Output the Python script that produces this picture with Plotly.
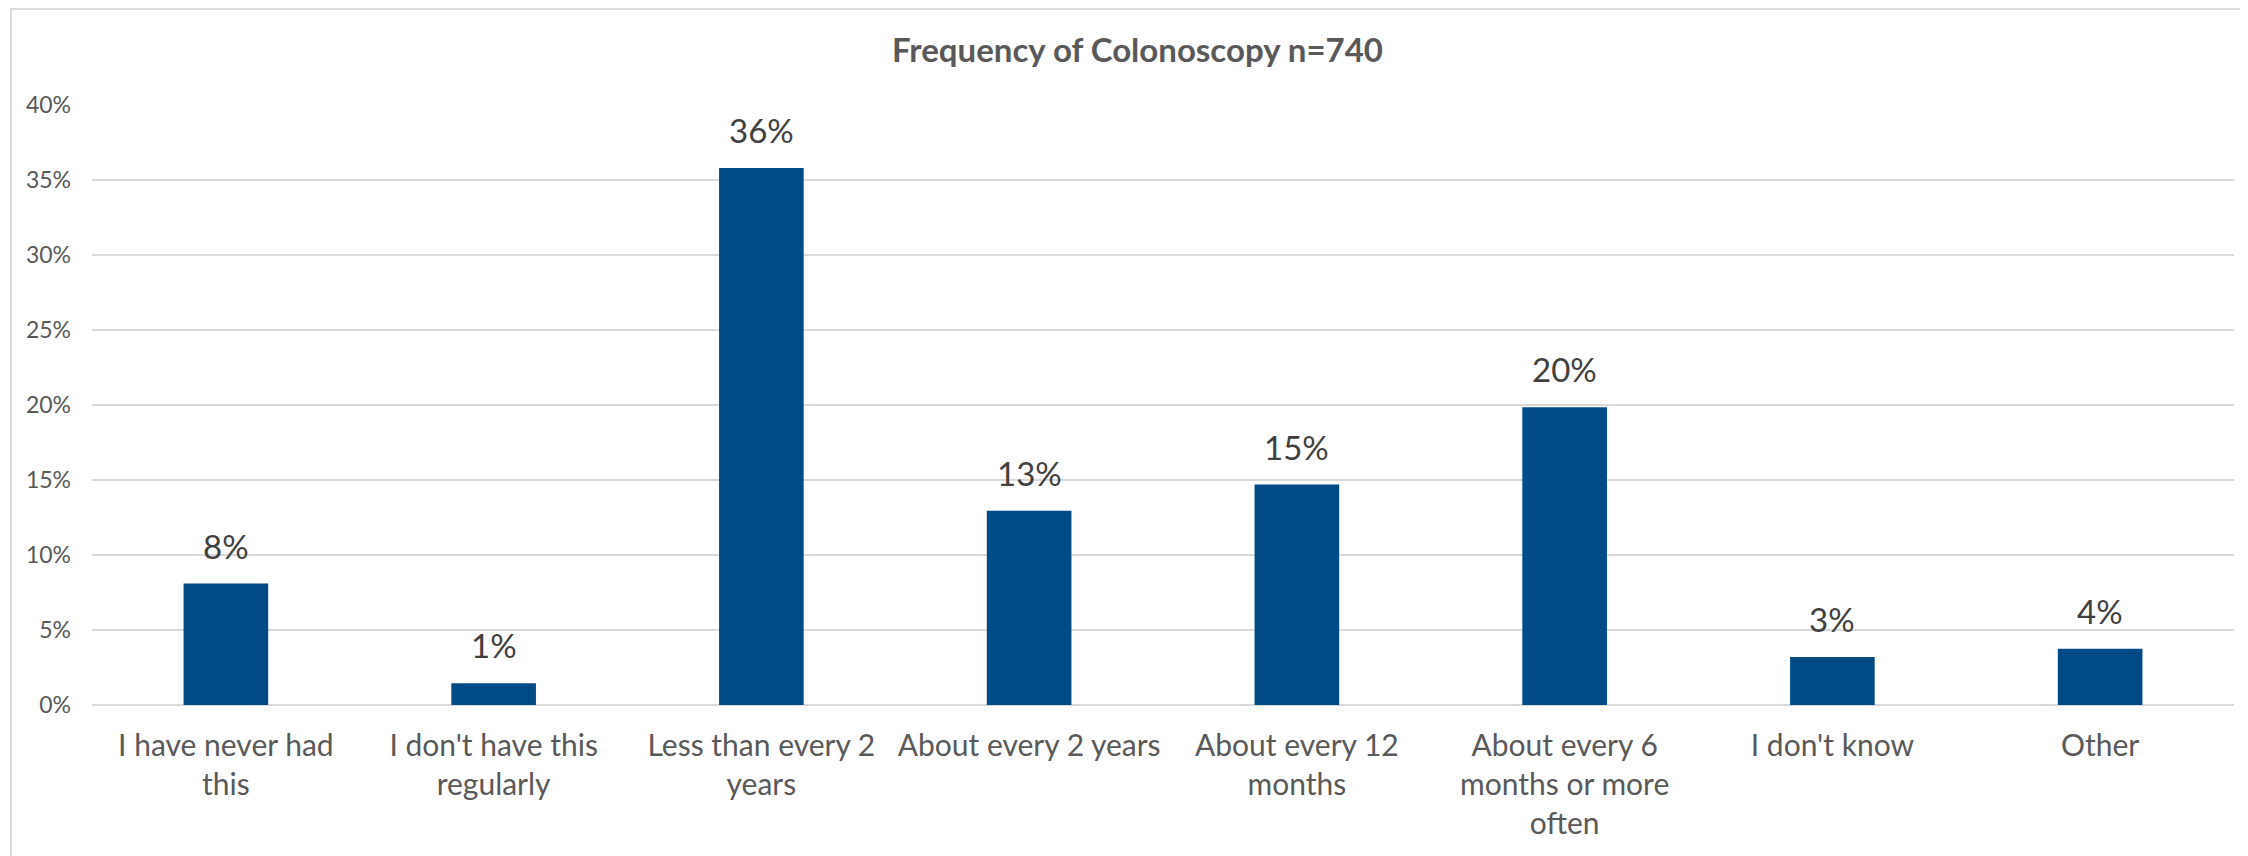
import plotly.graph_objects as go

# survey answers (share of respondents)
categories = [
    "I have never had this",
    "I don't have this regularly",
    "Less than every 2 years",
    "About every 2 years",
    "About every 12 months",
    "About every 6 months or more often",
    "I don't know",
    "Other",
]
tick_labels = [
    "I have never had<br>this",
    "I don't have this<br>regularly",
    "Less than every 2<br>years",
    "About every 2 years",
    "About every 12<br>months",
    "About every 6<br>months or more<br>often",
    "I don't know",
    "Other",
]
shares = [0.081, 0.0145, 0.358, 0.1295, 0.147, 0.1985, 0.032, 0.0375]
value_labels = ["8%", "1%", "36%", "13%", "15%", "20%", "3%", "4%"]

# page has an 8px body margin, so positions are shifted by that
W, H = 2248, 856
L, R, T, B = 84, 22, 97, 159
pw, ph = W - L - R, H - T - B

fig = go.Figure()
fig.add_trace(go.Bar(
    x=categories,
    y=shares,
    marker_color="#004A86",
    marker_line_width=0,
    hoverinfo="skip",
))

# data labels above bars
for c, v, t in zip(categories, shares, value_labels):
    fig.add_annotation(
        x=c, y=v, text=t, showarrow=False,
        yanchor="bottom", yshift=16,
        font=dict(family="Lato", size=33, color="#404040"),
    )

# light frame around the chart
fig.add_shape(
    type="rect", xref="paper", yref="paper",
    x0=(3 - L) / pw, x1=(W + 20 - L) / pw,
    y0=(H - B - (H + 20)) / ph, y1=(H - B - 1) / ph,
    line=dict(color="#d9d9d9", width=2), layer="below",
)

fig.update_layout(
    width=W, height=H,
    margin=dict(l=L, r=R, t=T, b=B, autoexpand=False),
    paper_bgcolor="white",
    plot_bgcolor="white",
    showlegend=False,
    bargap=0.684,
    title=dict(
        text="<b>Frequency of Colonoscopy n=740</b>",
        x=1129.5 / W, xanchor="center",
        y=1 - 42 / H, yanchor="middle",
        font=dict(family="Lato", size=33, color="#595959"),
    ),
    xaxis=dict(
        tickmode="array",
        tickvals=categories,
        ticktext=tick_labels,
        tickfont=dict(family="Lato", size=30, color="#595959"),
        showgrid=False,
        showline=False,
        ticks="",
        ticklabelstandoff=20,
    ),
    yaxis=dict(
        range=[0, 0.40],
        dtick=0.05,
        tickformat=".0%",
        tickfont=dict(family="Lato", size=23, color="#595959"),
        showgrid=True,
        gridcolor="#d9d9d9",
        gridwidth=2,
        zeroline=True,
        zerolinecolor="#d9d9d9",
        zerolinewidth=2,
        showline=False,
        ticks="",
        ticklabelstandoff=20,
    ),
)

fig.write_html("out.html")
